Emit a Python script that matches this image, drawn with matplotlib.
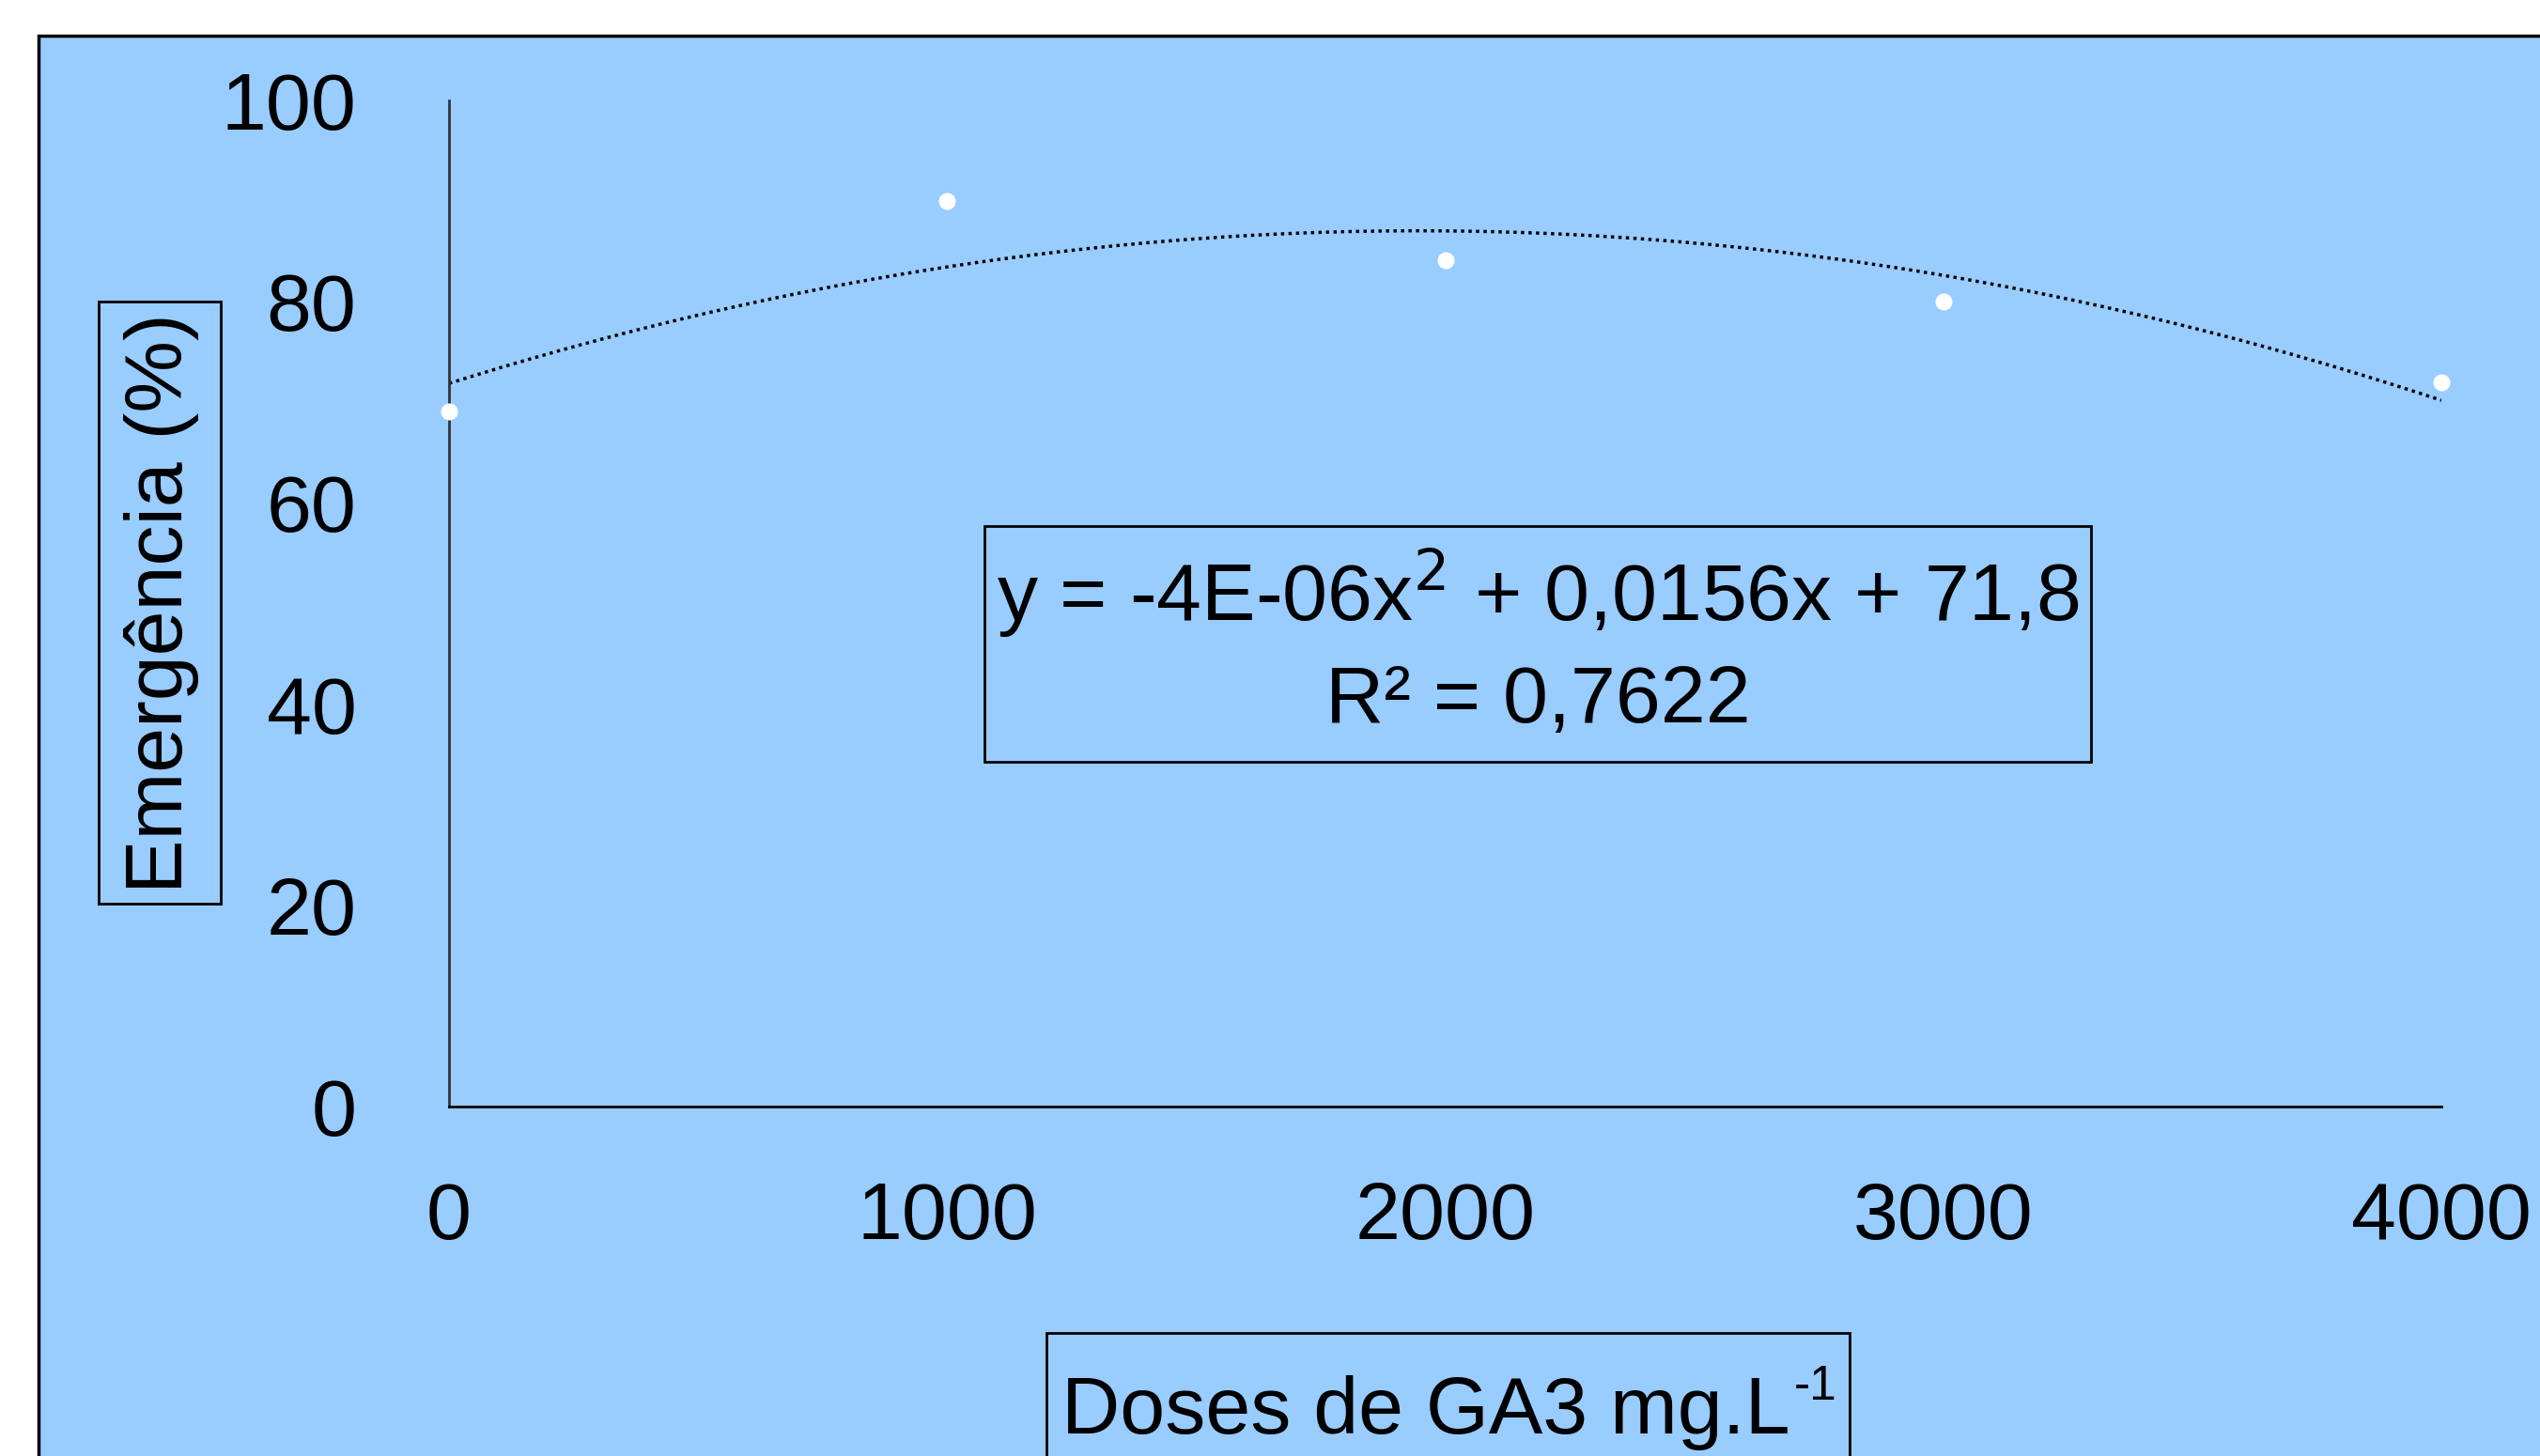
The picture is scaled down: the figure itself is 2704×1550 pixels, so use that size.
import numpy as np
import matplotlib
matplotlib.use("Agg")
from matplotlib import pyplot as plt
from matplotlib.patches import Rectangle

doses = [0, 1000, 2000, 3000, 4000]
emergencia = [69.1, 90.0, 84.1, 80.0, 72.0]
xticks = [0, 1000, 2000, 3000, 4000]
yticks = [0, 20, 40, 60, 80, 100]

plt.rcParams['font.family'] = ['Liberation Sans Narrow', 'Liberation Sans', 'DejaVu Sans']

W, H = 2704, 1550
fs = 62

fig = plt.figure(figsize=(W / 100, H / 100), dpi=100)
fig.patch.set_facecolor("white")


def fig_box(x0, y0, x1, y1, **kw):
    # box given in pixel coords, measured from top left
    r = Rectangle((x0 / W, 1 - y1 / H), (x1 - x0) / W, (y1 - y0) / H,
                  transform=fig.transFigure, **kw)
    fig.patches.append(r)
    return r


# blue chart area
fig_box(41, 38, W + 10, H + 10, facecolor="#99CCFF", edgecolor="black", linewidth=2.5, zorder=-2)

ax = fig.add_axes([478 / W, 1 - 1178 / H, (2599 - 478) / W, (1178 - 107) / H])
ax.patch.set_alpha(0)

# trend line (2nd order polynomial)
coef = np.polyfit(doses, emergencia, 2)
xs = np.linspace(0, 4000, 300)
ax.plot(xs, np.polyval(coef, xs), color="black", linestyle=(0, (1, 1.3)), linewidth=2.5)

ax.plot(doses, emergencia, "o", color="white", markersize=13, markeredgewidth=0,
        zorder=5, clip_on=False)

ax.set_xlim(0, 4000)
ax.set_ylim(0, 100)
ax.set_xticks(xticks)
ax.set_yticks(yticks)
ax.tick_params(length=0, labelsize=fs)
ax.tick_params(axis="x", pad=57)
ax.tick_params(axis="y", pad=71)
for s in ["top", "right"]:
    ax.spines[s].set_visible(False)
ax.spines["left"].set_linewidth(2)
ax.spines["left"].set_color("#333333")
ax.spines["bottom"].set_linewidth(2)

# equation box
fig_box(1048, 560, 2226, 811, facecolor="none", edgecolor="black", linewidth=2)
fig.text(1637 / W, 1 - 632 / H, "y = -4E-06x$^{2}$ + 0,0156x + 71,8", fontsize=fs,
         ha="center", va="center")
fig.text(1637 / W, 1 - 747 / H, "R² = 0,7622", fontsize=fs, ha="center", va="center")

# y label
fig_box(105, 321, 235, 962, facecolor="none", edgecolor="black", linewidth=2)
fig.text(172 / W, 1 - 642 / H, "Emergência (%)", fontsize=fs, rotation=90,
         ha="center", va="center")

# x label
fig_box(1114, 1419, 1969, H + 10, facecolor="none", edgecolor="black", linewidth=2)
fig.text(1906 / W, 1 - 1526 / H, "Doses de GA3 mg.L", fontsize=fs, ha="right", va="baseline")
fig.text(1910 / W, 1 - 1490 / H, "-1", fontsize=fs * 0.6, ha="left", va="baseline")

plt.savefig("out.png", dpi=100)
